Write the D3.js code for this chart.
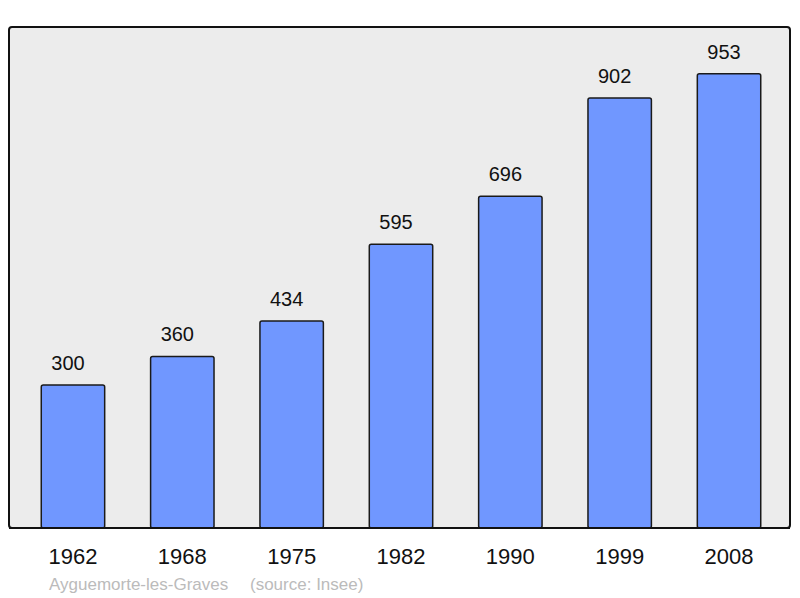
<!DOCTYPE html>
<html>
<head>
<meta charset="utf-8">
<script src="https://cdn.jsdelivr.net/npm/d3@7"></script>
<style>
  body { margin: 0; background: #fff; }
  text { font-family: "Liberation Sans", Arial, sans-serif; }
</style>
</head>
<body>
<div id="chart"></div>
<script>
// data
var years = ["1962", "1968", "1975", "1982", "1990", "1999", "2008"];
var population = [300, 360, 434, 595, 696, 902, 953];

var svgWidth = 800;
var svgHeight = 598;

var frame = { left: 9, top: 27, right: 790, bottom: 528 };

var svg = d3.select("#chart").append("svg")
  .attr("width", svgWidth)
  .attr("height", svgHeight);

// background frame
svg.append("rect")
  .attr("x", frame.left)
  .attr("y", frame.top)
  .attr("width", frame.right - frame.left)
  .attr("height", frame.bottom - frame.top)
  .attr("rx", 3)
  .attr("fill", "#ececec")
  .attr("stroke", "#111")
  .attr("stroke-width", 2);

var xScale = d3.scaleBand()
  .domain(years)
  .range([18.3, 783.7])
  .paddingInner(0.42)
  .paddingOuter(0.21);

var yScale = d3.scaleLinear()
  .domain([0, 1051])
  .range([frame.bottom, frame.top]);

// bars
svg.selectAll(".bar")
  .data(population)
  .enter()
  .append("rect")
  .attr("class", "bar")
  .attr("x", (d, i) => xScale(years[i]))
  .attr("y", d => yScale(d))
  .attr("width", xScale.bandwidth())
  .attr("height", d => yScale(0) - yScale(d))
  .attr("rx", 2)
  .attr("fill", "#7097ff")
  .attr("stroke", "#1a1a1a")
  .attr("stroke-width", 1.5);

// redraw bottom edge of frame over bars
svg.append("line")
  .attr("x1", frame.left)
  .attr("x2", frame.right)
  .attr("y1", frame.bottom)
  .attr("y2", frame.bottom)
  .attr("stroke", "#111")
  .attr("stroke-width", 2);

// value labels (sit a little left of bar centre, as in the original)
svg.selectAll(".value")
  .data(population)
  .enter()
  .append("text")
  .attr("class", "value")
  .attr("x", (d, i) => xScale(years[i]) + xScale.bandwidth() / 2 - 5)
  .attr("y", d => yScale(d) - 15)
  .attr("text-anchor", "middle")
  .attr("font-size", "20px")
  .attr("fill", "#111")
  .text(d => d);

// year axis labels
var xAxis = d3.axisBottom(xScale).tickSize(0).tickPadding(0);
var axisG = svg.append("g")
  .attr("transform", `translate(0, ${frame.bottom})`)
  .call(xAxis);
axisG.select(".domain").remove();
axisG.selectAll("text")
  .attr("dy", null)
  .attr("y", 36)
  .attr("font-size", "22px")
  .attr("font-family", "Liberation Sans, Arial, sans-serif")
  .attr("fill", "#111");

// footer
svg.append("text")
  .attr("x", 49)
  .attr("y", 590)
  .attr("font-size", "17px")
  .attr("fill", "#bbb")
  .text("Ayguemorte-les-Graves");

svg.append("text")
  .attr("x", 250)
  .attr("y", 590)
  .attr("font-size", "17px")
  .attr("fill", "#bbb")
  .text("(source: Insee)");
</script>
</body>
</html>
